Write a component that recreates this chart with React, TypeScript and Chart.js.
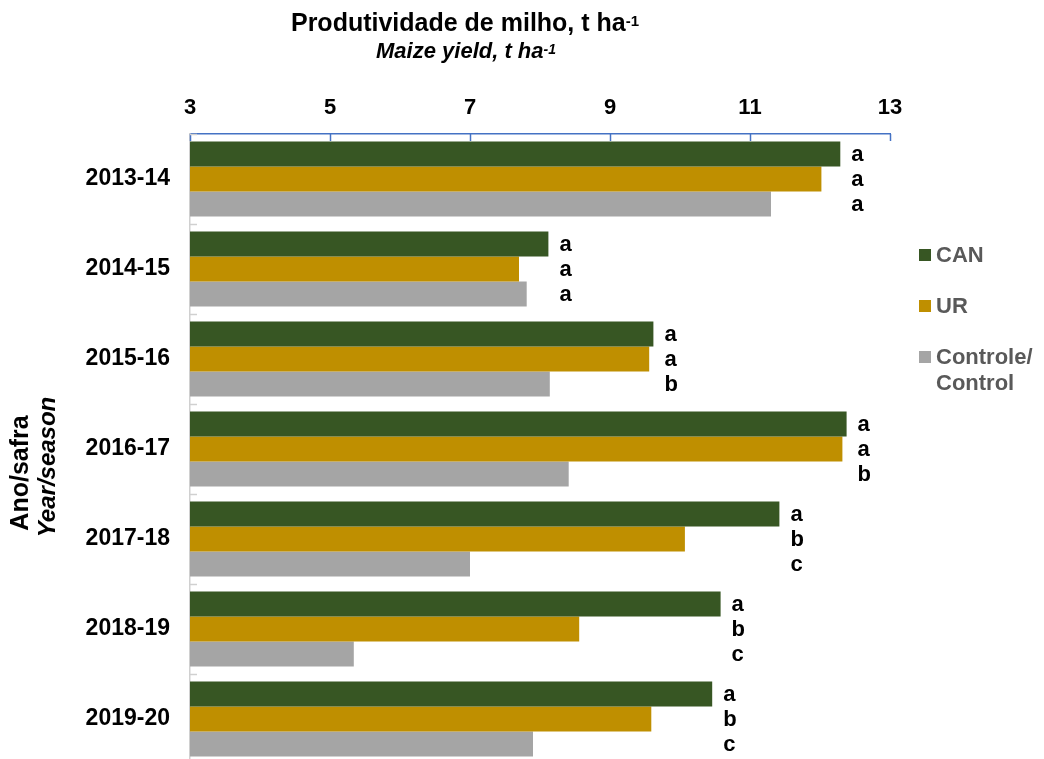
import React, { useEffect, useRef } from 'react';
import { Chart, registerables } from 'chart.js';

Chart.register(...registerables);

const seasons = ['2013-14', '2014-15', '2015-16', '2016-17', '2017-18', '2018-19', '2019-20'];
const seriesNames = ['CAN', 'UR', 'Controle/\nControl'];
const canValues = [12.29, 8.12, 9.62, 12.38, 11.42, 10.58, 10.46];
const urValues = [12.02, 7.7, 9.56, 12.32, 10.07, 8.56, 9.59];
const controlValues = [11.3, 7.81, 8.14, 8.41, 7.0, 5.34, 7.9];
const canLetters = ['a', 'a', 'a', 'a', 'a', 'a', 'a'];
const urLetters = ['a', 'a', 'a', 'a', 'b', 'b', 'b'];
const controlLetters = ['a', 'a', 'b', 'b', 'c', 'c', 'c'];
const xTickValues = [3, 5, 7, 9, 11, 13];
const seriesColors = ['#375623', '#BF8F00', '#A5A5A5'];

const FONT = '"Liberation Sans", Arial, Helvetica, sans-serif';

function drawWithSup(
  ctx: CanvasRenderingContext2D,
  main: string,
  sup: string,
  cx: number,
  baseline: number,
  mainFont: string,
  supFont: string,
  rise: number
) {
  ctx.font = mainFont;
  const wMain = ctx.measureText(main).width;
  ctx.font = supFont;
  const wSup = ctx.measureText(sup).width;
  const start = cx - (wMain + wSup) / 2;
  ctx.textAlign = 'left';
  ctx.textBaseline = 'alphabetic';
  ctx.font = mainFont;
  ctx.fillText(main, start, baseline);
  ctx.font = supFont;
  ctx.fillText(sup, start + wMain, baseline - rise);
}

export default function App() {
  const ref = useRef<HTMLCanvasElement>(null);

  useEffect(() => {
    const canvas = ref.current;
    if (!canvas) return;
    const letters = [canLetters, urLetters, controlLetters];

    const decor = {
      id: 'decor',
      afterDraw(chart: any) {
        const ctx: CanvasRenderingContext2D = chart.ctx;
        const xs = chart.scales.x;
        const ys = chart.scales.y;
        const area = chart.chartArea;
        ctx.save();

        // inner tick marks on top axis
        ctx.strokeStyle = '#4472C4';
        ctx.lineWidth = 1.5;
        xTickValues.forEach((v) => {
          const px = Math.round(xs.getPixelForValue(v)) + 0.5;
          ctx.beginPath();
          ctx.moveTo(px, area.top);
          ctx.lineTo(px, area.top + 7);
          ctx.stroke();
        });

        // category boundary ticks on left axis
        ctx.strokeStyle = '#D0D0D0';
        ctx.lineWidth = 1.5;
        for (let i = 0; i <= seasons.length; i++) {
          const py = Math.round(ys.getPixelForValue(i - 0.5)) + 0.5;
          ctx.beginPath();
          ctx.moveTo(area.left, py);
          ctx.lineTo(area.left + 7, py);
          ctx.stroke();
        }

        // significance letters
        ctx.fillStyle = '#000000';
        ctx.font = `bold 22px ${FONT}`;
        ctx.textAlign = 'left';
        ctx.textBaseline = 'middle';
        const meta0 = chart.getDatasetMeta(0);
        for (let i = 0; i < seasons.length; i++) {
          const lx = meta0.data[i].x + 11;
          for (let d = 0; d < 3; d++) {
            const el = chart.getDatasetMeta(d).data[i];
            ctx.fillText(letters[d][i], lx, el.y + 1);
          }
        }

        // titles
        ctx.fillStyle = '#000000';
        drawWithSup(ctx, 'Produtividade de milho, t ha', '-1', 465, 31, `bold 25px ${FONT}`, `bold 15px ${FONT}`, 5);
        drawWithSup(ctx, 'Maize yield, t ha', '-1', 466, 58, `italic bold 22px ${FONT}`, `italic bold 14px ${FONT}`, 4);

        // y axis titles
        ctx.save();
        ctx.translate(28, 473);
        ctx.rotate(-Math.PI / 2);
        ctx.textAlign = 'center';
        ctx.textBaseline = 'alphabetic';
        ctx.font = `bold 25px ${FONT}`;
        ctx.fillText('Ano/safra', 0, 0);
        ctx.restore();
        ctx.save();
        ctx.translate(55, 467);
        ctx.rotate(-Math.PI / 2);
        ctx.textAlign = 'center';
        ctx.textBaseline = 'alphabetic';
        ctx.font = `italic bold 24px ${FONT}`;
        ctx.fillText('Year/season', 0, 0);
        ctx.restore();

        // legend
        const legendY = [255, 306, 357];
        ctx.font = `bold 22px ${FONT}`;
        ctx.textAlign = 'left';
        ctx.textBaseline = 'middle';
        chart.data.datasets.forEach((ds: any, d: number) => {
          ctx.fillStyle = ds.backgroundColor;
          ctx.fillRect(919, legendY[d] - 6, 12, 12);
          ctx.fillStyle = '#595959';
          const lines = String(ds.label).split('\n');
          lines.forEach((ln, k) => ctx.fillText(ln, 936, legendY[d] + 1 + k * 26));
        });

        ctx.restore();
      },
    };

    const chart = new Chart(canvas, {
      type: 'bar',
      data: {
        labels: seasons,
        datasets: [
          { label: seriesNames[0], data: canValues, backgroundColor: seriesColors[0] },
          { label: seriesNames[1], data: urValues, backgroundColor: seriesColors[1] },
          { label: seriesNames[2], data: controlValues, backgroundColor: seriesColors[2] },
        ],
      },
      options: {
        indexAxis: 'y',
        animation: false,
        responsive: false,
        devicePixelRatio: 1,
        layout: { padding: { left: 0, right: 154, top: 0, bottom: 8 } },
        datasets: { bar: { categoryPercentage: 75 / 90, barPercentage: 1 } },
        plugins: {
          legend: { display: false },
          tooltip: { enabled: false },
          title: { display: false },
        },
        scales: {
          x: {
            type: 'linear',
            position: 'top',
            min: 3,
            max: 13,
            ticks: {
              stepSize: 2,
              color: '#000000',
              padding: 13,
              font: { family: FONT, size: 22, weight: 'bold' },
            },
            grid: { display: false, drawTicks: false },
            border: { display: true, color: '#4472C4', width: 1.5 },
            afterFit: (s: any) => {
              s.height = 134;
              s.paddingLeft = 0;
              s.paddingRight = 0;
            },
          },
          y: {
            ticks: {
              color: '#000000',
              padding: 20,
              font: { family: FONT, size: 23, weight: 'bold' },
            },
            grid: { display: false, drawTicks: false },
            border: { display: true, color: '#D0D0D0', width: 1.5 },
            afterFit: (s: any) => {
              s.width = 190;
              s.paddingTop = 0;
              s.paddingBottom = 0;
            },
          },
        },
      } as any,
      plugins: [decor],
    });

    return () => chart.destroy();
  }, []);

  return (
    <div
      style={{
        position: 'fixed',
        left: 0,
        top: 0,
        width: 1044,
        height: 759,
        overflow: 'hidden',
        background: '#ffffff',
      }}
    >
      <canvas ref={ref} width={1044} height={772} style={{ display: 'block', width: 1044, height: 772 }} />
    </div>
  );
}
